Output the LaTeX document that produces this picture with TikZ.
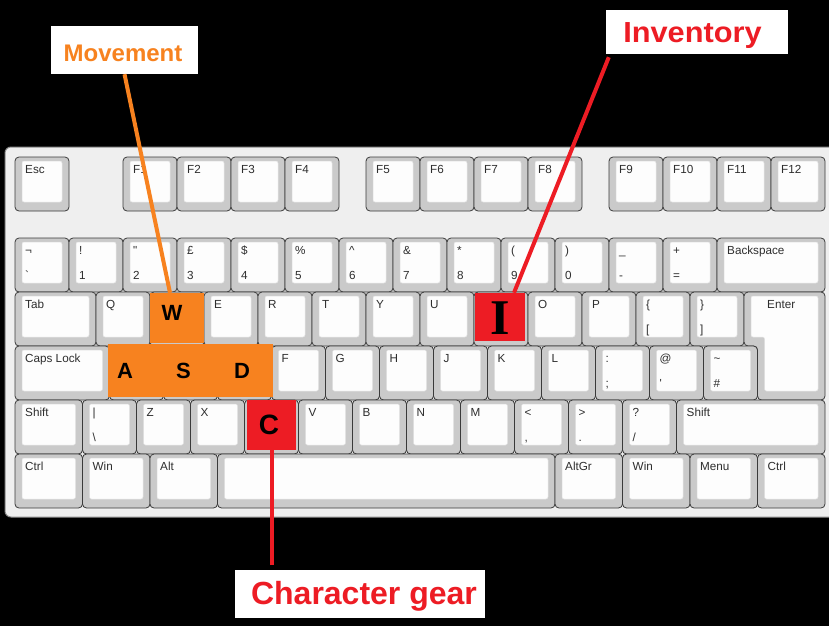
\documentclass[tikz,border=0pt]{standalone}
\usepackage{fontspec}
\setmainfont{Liberation Sans}
\newfontfamily\serifI{Liberation Serif}
\definecolor{kbbody}{HTML}{EFEFEF}
\definecolor{kbcap}{HTML}{CACACA}
\definecolor{kbtop}{HTML}{FDFDFD}
\definecolor{kbedge}{HTML}{3A3A3A}
\definecolor{kbtext}{HTML}{2E2E2E}
\definecolor{kborange}{HTML}{F7821F}
\definecolor{kbred}{HTML}{ED1C24}
\newcounter{kbk}
\tikzset{
  keyout/.style={fill=kbcap, draw=kbedge, line width=0.8pt, rounded corners=4pt},
  keyin/.style={fill=kbtop, draw=black!12, line width=0.5pt, rounded corners=2pt},
  keylbl/.style={anchor=base west, inner sep=0pt, text=kbtext, font=\fontsize{11.7}{12}\selectfont},
  hilite/.style={inner sep=0pt, text=black, font=\fontsize{22}{22}\selectfont\bfseries},
  callout/.style={fill=white, inner sep=0pt},
  calltext/.style={inner sep=0pt, font=\bfseries},
  conn/.style={line width=4pt},
}
\newcommand{\kbkey}[5]{%
  \stepcounter{kbk}%
  \draw[keyout] (#1,#2) rectangle ++(#3,54);
  \draw[keyin] (#1+7,#2+4) rectangle (#1+#3-7,#2+45);
  \node[keylbl] (kt\arabic{kbk}) at (#1+10,#2+16) {#4};
  \node[keylbl] (kb\arabic{kbk}) at (#1+10,#2+41) {#5};
}
\begin{document}
\begin{tikzpicture}[x=1pt,y=-1pt]
\useasboundingbox (0,0) rectangle (829,626);
\fill[black] (0,0) rectangle (829,626);
% keyboard body
\draw[fill=kbbody, draw=black!45, line width=1pt, rounded corners=6pt] (5,147) rectangle (845,517);
% function row
\kbkey{15}{157}{54}{Esc}{}
\kbkey{123}{157}{54}{F1}{}
\kbkey{177}{157}{54}{F2}{}
\kbkey{231}{157}{54}{F3}{}
\kbkey{285}{157}{54}{F4}{}
\kbkey{366}{157}{54}{F5}{}
\kbkey{420}{157}{54}{F6}{}
\kbkey{474}{157}{54}{F7}{}
\kbkey{528}{157}{54}{F8}{}
\kbkey{609}{157}{54}{F9}{}
\kbkey{663}{157}{54}{F10}{}
\kbkey{717}{157}{54}{F11}{}
\kbkey{771}{157}{54}{F12}{}
% number row
\kbkey{15}{238}{54}{¬}{\textasciigrave}
\kbkey{69}{238}{54}{!}{1}
\kbkey{123}{238}{54}{\textquotedbl}{2}
\kbkey{177}{238}{54}{£}{3}
\kbkey{231}{238}{54}{\$}{4}
\kbkey{285}{238}{54}{\%}{5}
\kbkey{339}{238}{54}{\textasciicircum}{6}
\kbkey{393}{238}{54}{\&}{7}
\kbkey{447}{238}{54}{*}{8}
\kbkey{501}{238}{54}{(}{9}
\kbkey{555}{238}{54}{)}{0}
\kbkey{609}{238}{54}{\_}{-}
\kbkey{663}{238}{54}{+}{=}
\kbkey{717}{238}{108}{Backspace}{}
% tab row
\kbkey{15}{292}{81}{Tab}{}
\kbkey{96}{292}{54}{Q}{}
\kbkey{150}{292}{54}{}{}
\kbkey{204}{292}{54}{E}{}
\kbkey{258}{292}{54}{R}{}
\kbkey{312}{292}{54}{T}{}
\kbkey{366}{292}{54}{Y}{}
\kbkey{420}{292}{54}{U}{}
\kbkey{474}{292}{54}{}{}
\kbkey{528}{292}{54}{O}{}
\kbkey{582}{292}{54}{P}{}
\kbkey{636}{292}{54}{\{}{[}
\kbkey{690}{292}{54}{\}}{]}
% enter (ISO)
\draw[keyout] (744,292) -- (825,292) -- (825,400) -- (757.5,400) -- (757.5,346) -- (744,346) -- cycle;
\draw[keyin] (751,296) -- (818,296) -- (818,391) -- (764.5,391) -- (764.5,337) -- (751,337) -- cycle;
\node[keylbl] (enterlbl) at (767,308) {Enter};
% caps row
\kbkey{15}{346}{94.5}{Caps Lock}{}
\kbkey{109.5}{346}{54}{}{}
\kbkey{163.5}{346}{54}{}{}
\kbkey{217.5}{346}{54}{}{}
\kbkey{271.5}{346}{54}{F}{}
\kbkey{325.5}{346}{54}{G}{}
\kbkey{379.5}{346}{54}{H}{}
\kbkey{433.5}{346}{54}{J}{}
\kbkey{487.5}{346}{54}{K}{}
\kbkey{541.5}{346}{54}{L}{}
\kbkey{595.5}{346}{54}{:}{;}
\kbkey{649.5}{346}{54}{@}{\textquotesingle}
\kbkey{703.5}{346}{54}{\textasciitilde}{\#}
% shift row
\kbkey{15}{400}{67.5}{Shift}{}
\kbkey{82.5}{400}{54}{|}{\textbackslash}
\kbkey{136.5}{400}{54}{Z}{}
\kbkey{190.5}{400}{54}{X}{}
\kbkey{244.5}{400}{54}{}{}
\kbkey{298.5}{400}{54}{V}{}
\kbkey{352.5}{400}{54}{B}{}
\kbkey{406.5}{400}{54}{N}{}
\kbkey{460.5}{400}{54}{M}{}
\kbkey{514.5}{400}{54}{<}{,}
\kbkey{568.5}{400}{54}{>}{.}
\kbkey{622.5}{400}{54}{?}{/}
\kbkey{676.5}{400}{148.5}{Shift}{}
% bottom row
\kbkey{15}{454}{67.5}{Ctrl}{}
\kbkey{82.5}{454}{67.5}{Win}{}
\kbkey{150}{454}{67.5}{Alt}{}
\kbkey{217.5}{454}{337.5}{}{}
\kbkey{555}{454}{67.5}{AltGr}{}
\kbkey{622.5}{454}{67.5}{Win}{}
\kbkey{690}{454}{67.5}{Menu}{}
\kbkey{757.5}{454}{67.5}{Ctrl}{}
% highlighted keys
\node[hilite, fill=kborange, minimum width=54pt, minimum height=50pt] (wkey) at (177,318) {};
\node[hilite] (wlbl) at (172,313) {W};
\node[fill=kborange, inner sep=0pt, minimum width=165pt, minimum height=53pt] (asd) at (190.5,370.5) {};
\node[hilite] (akey) at (125,371) {A};
\node[hilite] (skey) at (183.5,371) {S};
\node[hilite] (dkey) at (242,371) {D};
\node[fill=kbred, inner sep=0pt, minimum width=50pt, minimum height=48pt] (ikey) at (500,317) {};
\node[inner sep=0pt, text=black, font=\serifI\bfseries\fontsize{50}{50}\selectfont] (ilbl) at (500,318) {I};
\node[fill=kbred, inner sep=0pt, minimum width=49pt, minimum height=50pt] (ckey) at (271.5,425) {};
\node[hilite, font=\fontsize{28}{28}\selectfont\bfseries] (clbl) at (269,425) {C};
% callouts
\node[callout, minimum width=147pt, minimum height=48pt] (mov) at (124.5,50) {};
\node[calltext, text=kborange, anchor=base, font=\fontsize{24}{24}\selectfont\bfseries] (movtxt) at (123,62) {Movement};
\node[callout, minimum width=182pt, minimum height=44pt] (inv) at (697,32) {};
\node[calltext, text=kbred, anchor=base, font=\fontsize{29}{29}\selectfont\bfseries] (invtxt) at (692.5,43) {\scalebox{1.06}[1]{Inventory}};
\node[callout, minimum width=250pt, minimum height=48pt] (gear) at (360,594) {};
\node[calltext, text=kbred, anchor=base, font=\fontsize{32}{32}\selectfont\bfseries] (geartxt) at (364,604) {Character gear};
% connectors
\draw[conn, kborange] (mov.south) -- ([xshift=-7pt]wkey.north);
\draw[conn, kbred] ([xshift=3pt,yshift=-3pt]inv.south west) -- ([xshift=14pt]ikey.north);
\coordinate (gtop) at ([yshift=5pt]gear.north);
\draw[conn, kbred] (ckey.south) -- (ckey.south |- gtop);
\end{tikzpicture}
\end{document}
